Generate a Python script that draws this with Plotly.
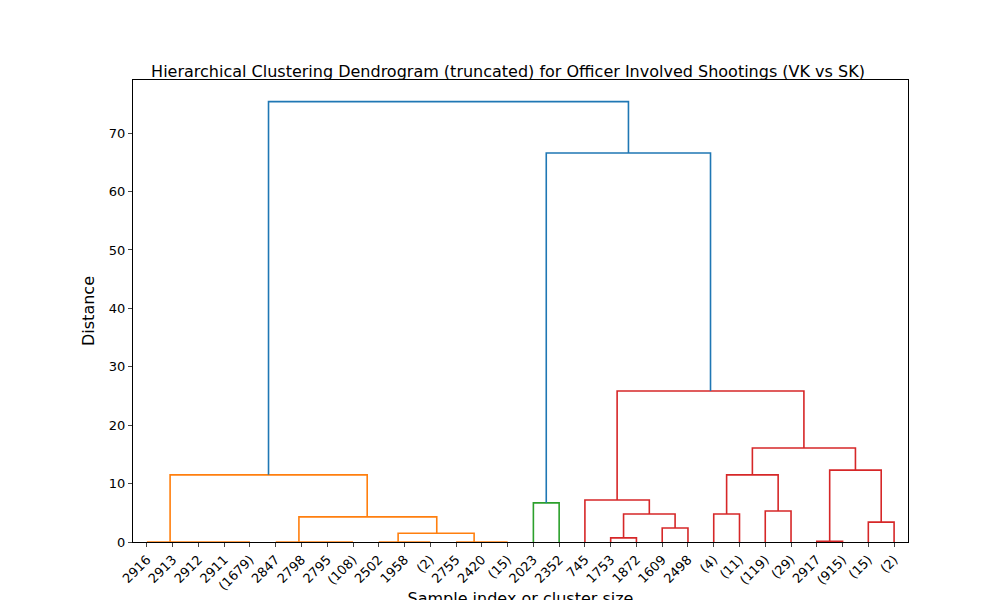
import plotly.graph_objects as go

leaf_labels = ["2916","2913","2912","2911","(1679)","2847","2798","2795","(108)","2502",
               "1958","(2)","2755","2420","(15)","2023","2352","745","1753","1872",
               "1609","2498","(4)","(11)","(119)","(29)","2917","(915)","(15)","(2)"]

# links: left x, right x (leaf units), left child height, right child height, merge height, colour
link_xl = [0, 5, 9, 12, 9.75, 5.9, 0.9,   15, 18, 20, 18.5, 17, 22, 24, 22.5, 26, 28, 26.5, 23.5, 18.25, 15.5, 4.72]
link_xr = [4, 8, 11, 14, 12.7, 11.25, 8.55, 16, 19, 21, 20.5, 19.5, 23, 25, 24.5, 27, 29, 28.5, 27.5, 25.5, 21.875, 18.69]
link_yl = [0, 0, 0, 0, 0, 0, 0,   0, 0, 0, 0.7, 0, 0, 0, 4.8, 0, 0, 0.1, 11.5, 7.2, 6.7, 11.5]
link_yr = [0, 0, 0, 0, 0, 1.5, 4.3, 0, 0, 0, 2.4, 4.8, 0, 0, 5.3, 0, 0, 3.4, 12.3, 16.1, 25.85, 66.6]
link_h  = [0, 0, 0, 0, 1.5, 4.3, 11.5, 6.7, 0.7, 2.4, 4.8, 7.2, 4.8, 5.3, 11.5, 0.1, 3.4, 12.3, 16.1, 25.85, 66.6, 75.4]
link_c  = ["o"]*7 + ["g"] + ["r"]*12 + ["b"]*2

colors = {"o": "#ff7f0e", "g": "#2ca02c", "r": "#d62728", "b": "#1f77b4"}

def lx(v):
    return 5 + 10 * v

fig = go.Figure()
for xl, xr, yl, yr, h, c in zip(link_xl, link_xr, link_yl, link_yr, link_h, link_c):
    fig.add_trace(go.Scatter(
        x=[lx(xl), lx(xl), lx(xr), lx(xr)], y=[yl, h, h, yr],
        mode="lines", line=dict(color=colors[c], width=1.6),
        showlegend=False, hoverinfo="skip"))

fig.update_layout(
    width=1000, height=600, plot_bgcolor="white", paper_bgcolor="white",
    margin=dict(l=125, r=100, t=72, b=66),
    font=dict(family="DejaVu Sans", size=13, color="black"),
    title=dict(text="Hierarchical Clustering Dendrogram (truncated) for Officer Involved Shootings (VK vs SK)",
               x=0.5, xanchor="center", y=0.885, yanchor="bottom", font=dict(size=16)),
)
fig.update_xaxes(range=[-0.4, 300.4], tickmode="array", automargin=False,
                 tickvals=[lx(i) for i in range(len(leaf_labels))], ticktext=leaf_labels,
                 tickangle=-45, ticks="outside", ticklen=4, showgrid=False, zeroline=False,
                 showline=True, linecolor="black", mirror=True,
                 title=dict(text="Sample index or cluster size", standoff=20))
fig.update_yaxes(range=[0, 79.1], tickvals=[0, 10, 20, 30, 40, 50, 60, 70], automargin=False,
                 ticks="outside", ticklen=4, showgrid=False, zeroline=False,
                 showline=True, linecolor="black", mirror=True,
                 title=dict(text="Distance", standoff=10))
fig.write_html("out.html")
